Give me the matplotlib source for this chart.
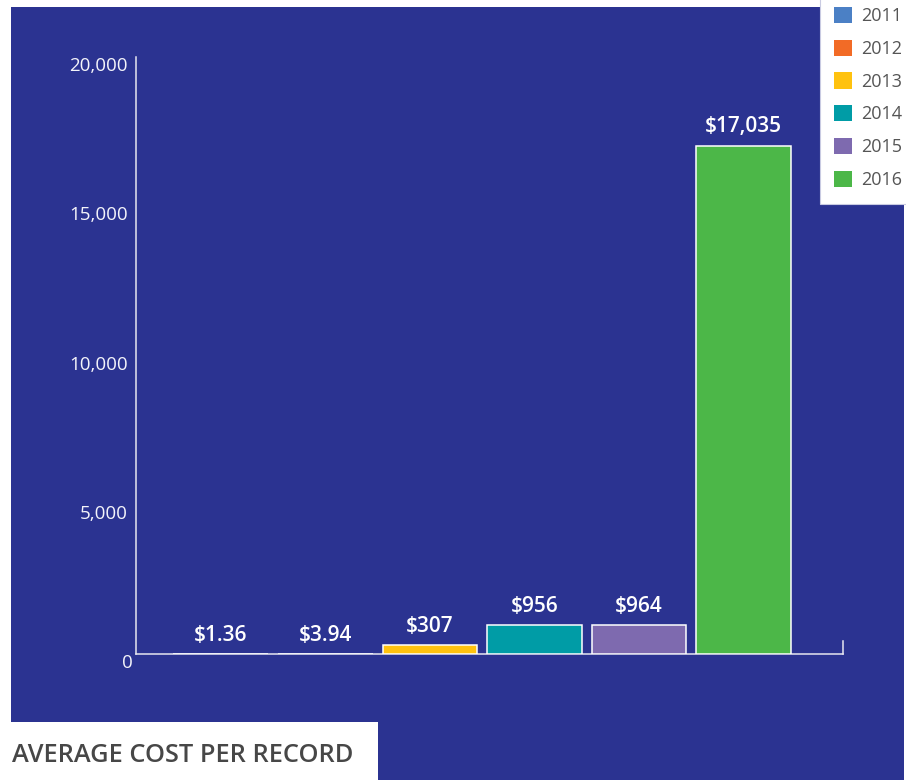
import matplotlib
matplotlib.use("Agg")
import matplotlib.pyplot as plt
from matplotlib.patches import Rectangle, Patch
from matplotlib.transforms import ScaledTranslation

years = ["2011", "2012", "2013", "2014", "2015", "2016"]
cost_per_record = [1.36, 3.94, 307, 956, 964, 17035]
value_labels = ["$1.36", "$3.94", "$307", "$956", "$964", "$17,035"]
bar_colors = ["#4B80C5", "#F26B26", "#FFC20F", "#009CA6", "#7E6AAF", "#4CB748"]
y_ticks = [0, 5000, 10000, 15000, 20000]
y_tick_labels = ["0", "5,000", "10,000", "15,000", "20,000"]
title = "AVERAGE COST PER RECORD"

NAVY = "#2B3391"
LINE = "#E6E6F0"

plt.rcParams["font.family"] = ["Open Sans", "DejaVu Sans"]

W, H = 906, 780
fig = plt.figure(figsize=(W / 100, H / 100), dpi=100)


def px_rect(x0, y0, x1, y1, **kw):
    """Rectangle given in pixel coords measured from the top-left corner."""
    return Rectangle((x0 / W, 1 - y1 / H), (x1 - x0) / W, (y1 - y0) / H,
                     transform=fig.transFigure, **kw)


# navy panel, white caption box, white legend box
fig.add_artist(px_rect(11, 7, 904, 781, facecolor=NAVY, edgecolor="none", zorder=0))
fig.add_artist(px_rect(-2, 722, 378, 782, facecolor="white", edgecolor="none", zorder=1))
fig.add_artist(px_rect(820, -2, 908, 204, facecolor="white",
                       edgecolor="#C9CBE2", linewidth=0.8, zorder=1))

ax = fig.add_axes([136 / W, 1 - 654 / H, (843 - 136) / W, (654 - 57) / H])
ax.set_facecolor("none")
ax.set_zorder(2)

x = list(range(len(years)))
bars = ax.bar(x, cost_per_record, width=0.905, color=bar_colors,
              edgecolor="white", linewidth=1.1, zorder=3)

for xi, v, lab in zip(x, cost_per_record, value_labels):
    ax.annotate(lab, (xi, v), xytext=(0, 13.5), textcoords="offset points",
                ha="center", va="center", color="white", fontsize=15,
                fontweight="semibold", zorder=4)

ax.set_xlim(-0.81, 5.95)
ax.set_ylim(0, 20000)
ax.set_xticks([])
ax.set_yticks(y_ticks)
ax.set_yticklabels(y_tick_labels, color="#F4F4FA", fontsize=13.5, fontweight="normal")
ax.tick_params(axis="y", length=0, pad=6)
shift = ScaledTranslation(0, -0.07, fig.dpi_scale_trans)
for t in ax.get_yticklabels():
    t.set_transform(t.get_transform() + shift)
ax.get_yticklabels()[0].set_transform(
    ax.get_yticklabels()[0].get_transform() + ScaledTranslation(0.05, 0, fig.dpi_scale_trans))

for side in ("left", "bottom", "right"):
    ax.spines[side].set_color(LINE)
    ax.spines[side].set_linewidth(1.1)
ax.spines["top"].set_visible(False)
ax.spines["right"].set_bounds(0, 440)

handles = [Patch(facecolor=c, edgecolor="none") for c in bar_colors]
leg = fig.legend(handles, years, loc="upper left",
                 bbox_to_anchor=(834 / W, 1 - 7 / H), frameon=False,
                 fontsize=13, handlelength=1.0, handleheight=1.0,
                 handletextpad=0.5, labelspacing=0.8, borderpad=0,
                 borderaxespad=0)
for t in leg.get_texts():
    t.set_color("#555555")
leg.set_zorder(5)

fig.text(12 / W, 1 - 755 / H, title, ha="left", va="center",
         fontsize=18.3, fontweight="semibold", color="#474747", zorder=3)

fig.savefig("out.png", dpi=100)
